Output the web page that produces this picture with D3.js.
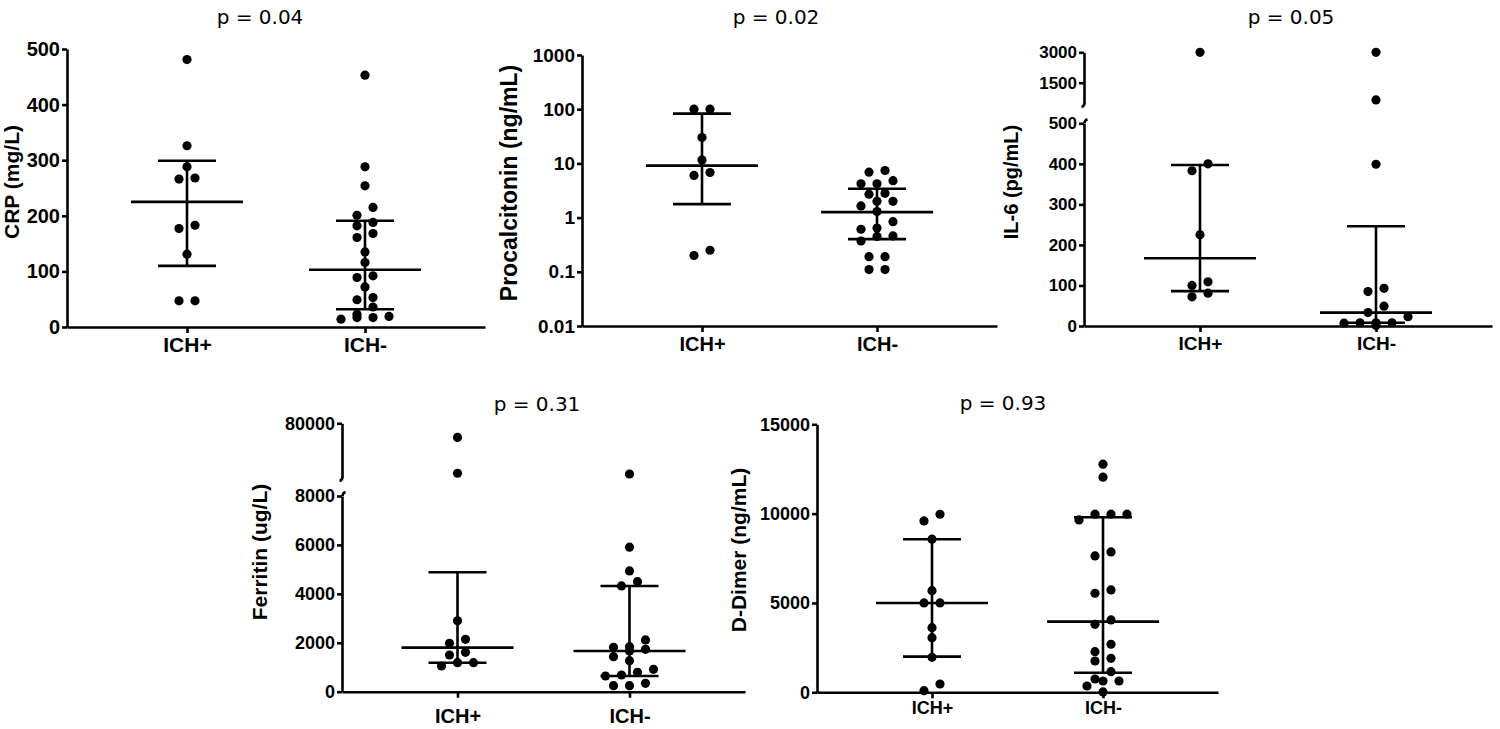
<!DOCTYPE html>
<html>
<head>
<meta charset="utf-8">
<script src="https://cdn.jsdelivr.net/npm/d3@7"></script>
<style>
  body { margin: 0; background: #fff; }
  svg { display: block; }
</style>
</head>
<body>
<svg id="chart" width="1500" height="729"></svg>
<script>
// ---------------- DATA ----------------
const groups = ["ICH+", "ICH-"];

// CRP (mg/L)
const crpPos = [481, 326, 288, 268, 266, 183, 177, 131, 47, 47];
const crpNeg = [453, 288, 254, 215, 201, 188, 182, 168, 161, 135, 116, 92, 89, 72, 53, 49, 36, 23, 19, 17, 17, 14];
const crpMedian = [225, 103];
const crpQ1 = [110, 32];
const crpQ3 = [299, 191];
const crpTicks = [0, 100, 200, 300, 400, 500];

// Procalcitonin (ng/mL)
const pctPos = [100, 100, 30, 11.6, 6.8, 6.0, 0.25, 0.2];
const pctNeg = [7.4, 6.9, 4.8, 4.2, 4.2, 2.8, 2.7, 2.0, 2.0, 1.64, 1.29, 0.84, 0.64, 0.61, 0.46, 0.45, 0.37, 0.19, 0.19, 0.11, 0.11];
const pctMedian = [9.1, 1.26];
const pctQ1 = [1.77, 0.40];
const pctQ3 = [83, 3.4];
const pctTicks = [0.01, 0.1, 1, 10, 100, 1000];

// IL-6 (pg/mL)  (broken axis)
const il6Pos = [3000, 400, 383, 225, 109, 100, 81, 72];
const il6Neg = [3000, 650, 399, 93, 85, 49, 33, 23, 8, 8, 8, 7, 1];
const il6Median = [167, 33];
const il6Q1 = [86, 8];
const il6Q3 = [397, 246];
const il6TicksLow = [0, 100, 200, 300, 400, 500];
const il6TicksHigh = [1500, 3000];

// Ferritin (ug/L)  (broken axis)
const ferPos = [61000, 13000, 2900, 2143, 1980, 1611, 1500, 1186, 1186, 1051];
const ferNeg = [12000, 5906, 4937, 4499, 4323, 2115, 1840, 1816, 1734, 1665, 1432, 1268, 916, 793, 683, 642, 343, 245, 245];
const ferMedian = [1800, 1665];
const ferQ1 = [1186, 642];
const ferQ3 = [4884, 4323];
const ferTicksLow = [0, 2000, 4000, 6000, 8000];
const ferTicksHigh = [80000];

// D-Dimer (ng/mL)
const ddPos = [9966, 9593, 8568, 5690, 5000, 5000, 3618, 3058, 1960, 465, 90];
const ddNeg = [12768, 12040, 9968, 9968, 9968, 9649, 7857, 7633, 5729, 5544, 4049, 3807, 2688, 2274, 1904, 1753, 1154, 745, 633, 633, 353, 20];
const ddMedian = [5000, 3954];
const ddQ1 = [1994, 1098];
const ddQ3 = [8568, 9800];
const ddTicks = [0, 5000, 10000, 15000];

const pLabels = ["p = 0.04", "p = 0.02", "p = 0.05", "p = 0.31", "p = 0.93"];
const yLabels = ["CRP (mg/L)", "Procalcitonin (ng/mL)", "IL-6 (pg/mL)", "Ferritin (ug/L)", "D-Dimer (ng/mL)"];

// ---------------- LAYOUT ----------------
const svg = d3.select("#chart");
const AXF = "'Liberation Sans', Arial, sans-serif";
const TF = "'DejaVu Sans', Verdana, sans-serif";
const LW = 2.6;
const R = 4.6;
const SLOT = 16;
const BIN = 7.8;
const HALF_MED = 56, HALF_CAP = 29;

const panels = [
  { vals: [crpPos, crpNeg], med: crpMedian, q1: crpQ1, q3: crpQ3,
    x0: 67, x1: 485, c0: 187, c1: 365,
    low: { type: "lin", domain: [0, 500], range: [327, 49], ticks: crpTicks },
    title: [260, 24], ylab: [18.6, 182], fs: { tick: 20, cat: 21, lab: 21 }, catPad: 4 },
  { vals: [pctPos, pctNeg], med: pctMedian, q1: pctQ1, q3: pctQ3,
    x0: 582, x1: 997, c0: 700, c1: 875,
    low: { type: "log", domain: [0.01, 1000], range: [326, 55], ticks: pctTicks },
    title: [776, 24], ylab: [516.8, 183], fs: { tick: 19, cat: 20, lab: 23 }, catPad: 5 },
  { vals: [il6Pos, il6Neg], med: il6Median, q1: il6Q1, q3: il6Q3,
    x0: 1084, x1: 1492, c0: 1202, c1: 1378,
    low: { type: "lin", domain: [0, 500], range: [326, 123.3], ticks: il6TicksLow },
    high: { domain: [500, 3000], range: [103, 52.3], ticks: il6TicksHigh },
    title: [1291, 24], ylab: [1017.9, 182], fs: { tick: 17, cat: 19, lab: 20 }, catPad: 5 },
  { vals: [ferPos, ferNeg], med: ferMedian, q1: ferQ1, q3: ferQ3,
    x0: 342, x1: 745, c0: 457, c1: 629,
    low: { type: "lin", domain: [0, 8000], range: [691.7, 496], ticks: ferTicksLow },
    high: { domain: [8000, 80000], range: [477, 423.3], ticks: ferTicksHigh },
    title: [537, 411], ylab: [267, 552], fs: { tick: 18, cat: 20, lab: 21 }, catPad: 11 },
  { vals: [ddPos, ddNeg], med: ddMedian, q1: ddQ1, q3: ddQ3,
    x0: 817, x1: 1218, c0: 932, c1: 1103,
    low: { type: "lin", domain: [0, 15000], range: [692.3, 424.3], ticks: ddTicks },
    title: [1003, 410], ylab: [745.5, 550], fs: { tick: 18, cat: 18, lab: 21 }, catPad: 3 }
];

function styleAxis(g, fs) {
  g.attr("font-family", AXF).attr("font-weight", "bold").attr("font-size", fs);
  g.selectAll("path.domain").attr("stroke", "#000").attr("stroke-width", LW);
  g.selectAll(".tick line").attr("stroke", "#000").attr("stroke-width", LW);
  g.selectAll(".tick text").attr("fill", "#000");
}

// row-binned column scatter (GraphPad-like)
function swarm(pixYs) {
  const idx = pixYs.map((y, i) => ({ y, i })).sort((a, b) => a.y - b.y);
  const off = new Array(pixYs.length).fill(0);
  let k = 0;
  while (k < idx.length) {
    const start = idx[k].y;
    const row = [];
    while (k < idx.length && idx[k].y - start < BIN) { row.push(idx[k]); k++; }
    row.sort((a, b) => b.y - a.y); // lower values on the left
    const n = row.length;
    row.forEach((p, j) => { off[p.i] = (j - (n - 1) / 2) * SLOT; });
  }
  return off;
}

panels.forEach((P, pi) => {
  const g = svg.append("g");

  // y scales
  const lowS = P.low.type === "log"
    ? d3.scaleLog().domain(P.low.domain).range(P.low.range)
    : d3.scaleLinear().domain(P.low.domain).range(P.low.range);
  const highS = P.high ? d3.scaleLinear().domain(P.high.domain).range(P.high.range) : null;
  const yPos = v => (highS && v > P.low.domain[1]) ? highS(v) : lowS(v);

  // x scale
  const pad = ((P.x1 - P.x0) / (P.c1 - P.c0) - 1) / 2;
  const xS = d3.scalePoint().domain(groups).range([P.x0, P.x1]).padding(pad);

  // y axis (lower segment)
  const fmt = P.low.type === "log" ? (d => String(d)) : d3.format("d");
  const yAx = g.append("g").attr("transform", `translate(${P.x0},0)`)
    .call(d3.axisLeft(lowS).tickValues(P.low.ticks).tickFormat(fmt).tickSize(5).tickSizeOuter(0).tickPadding(2));
  styleAxis(yAx, P.fs.tick);

  if (highS) {
    const yAx2 = g.append("g").attr("transform", `translate(${P.x0},0)`)
      .call(d3.axisLeft(highS).tickValues(P.high.ticks).tickFormat(d3.format("d")).tickSize(5).tickSizeOuter(0).tickPadding(2));
    styleAxis(yAx2, P.fs.tick);
    // break hooks
    const xa = P.x0 + 0.5;
    const yb = P.high.range[0];
    const yt = P.low.range[1];
    g.append("path")
      .attr("d", `M${xa},${yb} Q${xa},${yb + 3} ${xa - 3},${yb + 4}`)
      .attr("fill", "none").attr("stroke", "#000").attr("stroke-width", LW);
    g.append("path")
      .attr("d", `M${xa},${yt} Q${xa},${yt - 3} ${xa + 3},${yt - 4}`)
      .attr("fill", "none").attr("stroke", "#000").attr("stroke-width", LW);
  }

  // x axis
  const xAx = g.append("g").attr("transform", `translate(0,${P.low.range[0]})`)
    .call(d3.axisBottom(xS).tickSize(6).tickSizeOuter(0).tickPadding(P.catPad));
  styleAxis(xAx, P.fs.cat);

  // y label
  g.append("text")
    .attr("transform", `translate(${P.ylab[0]},${P.ylab[1]}) rotate(-90)`)
    .attr("text-anchor", "middle")
    .attr("font-family", AXF).attr("font-weight", "bold").attr("font-size", P.fs.lab)
    .attr("fill", "#000")
    .text(yLabels[pi]);

  // title
  g.append("text")
    .attr("x", P.title[0]).attr("y", P.title[1])
    .attr("text-anchor", "middle")
    .attr("font-family", TF).attr("font-size", 20).attr("fill", "#000")
    .text(pLabels[pi]);

  // points + median / IQR
  groups.forEach((grp, gi) => {
    const cx = xS(grp);
    const vals = P.vals[gi];
    const ys = vals.map(yPos);
    const offs = swarm(ys);

    const eg = g.append("g").attr("stroke", "#000").attr("stroke-width", LW).attr("fill", "none");
    eg.append("line").attr("x1", cx).attr("x2", cx).attr("y1", yPos(P.q1[gi])).attr("y2", yPos(P.q3[gi]));
    eg.append("line").attr("x1", cx - HALF_MED).attr("x2", cx + HALF_MED).attr("y1", yPos(P.med[gi])).attr("y2", yPos(P.med[gi]));
    eg.append("line").attr("x1", cx - HALF_CAP).attr("x2", cx + HALF_CAP).attr("y1", yPos(P.q1[gi])).attr("y2", yPos(P.q1[gi]));
    eg.append("line").attr("x1", cx - HALF_CAP).attr("x2", cx + HALF_CAP).attr("y1", yPos(P.q3[gi])).attr("y2", yPos(P.q3[gi]));

    g.append("g").selectAll("circle").data(vals).join("circle")
      .attr("cx", (d, i) => cx + offs[i])
      .attr("cy", (d, i) => ys[i])
      .attr("r", R)
      .attr("fill", "#000");
  });
});
</script>
</body>
</html>
